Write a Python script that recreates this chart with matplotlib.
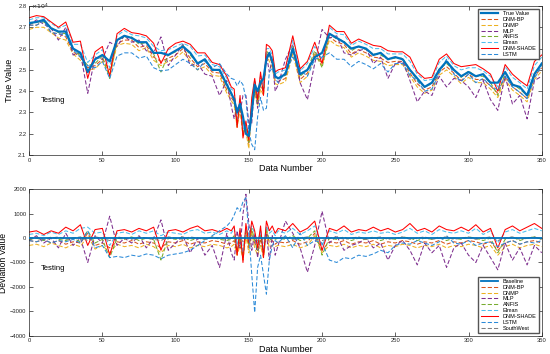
import numpy as np
import matplotlib
matplotlib.use("Agg")
from matplotlib import pyplot as plt

# sample positions (data number)
x = [0, 5, 10, 15, 20, 25, 30, 35, 40, 45, 50, 55, 60, 65, 70, 75, 80, 85, 90, 95,
     100, 105, 110, 115, 120, 125, 130, 135,
     138, 140, 142, 144, 146, 148, 150, 152, 154, 156, 158, 160, 162, 164, 166, 168,
     170, 175, 180, 185, 190, 195, 200, 205, 210, 215, 220, 225, 230, 235, 240, 245,
     250, 255, 260, 265, 270, 275, 280, 285, 290, 295, 300, 305, 310, 315, 320, 325,
     330, 335, 340, 345, 350]

true_value = [27200, 27250, 27350, 26950, 26800, 26800, 26000, 25800, 24900, 25500,
              25700, 25400, 26400, 26600, 26500, 26300, 26300, 25800, 25800, 25700,
              25900, 26100, 25800, 25300, 25500, 25000, 25000, 24300,
              23900, 23600, 23000, 23400, 22800, 22000, 21900, 23000, 24300, 24000,
              24400, 24600, 25500, 25800, 25400, 24700,
              24600, 24800, 26000, 24800, 25000, 25600, 25800, 26700, 26500, 26300,
              26000, 26100, 26000, 25700, 25800, 25500, 25600, 25500, 25000, 24600,
              24200, 24400, 25000, 25400, 25000, 24700, 24900, 24700, 24800, 24400,
              24400, 24900, 24300, 24200, 23800, 24800, 25300]

# deviations (prediction - true value)
dev_dnm_shade = [250, 300, 150, 300, 200, 450, 300, 550, -300, 350, 400, -700, 300, 350,
                 250, 400, 300, 450, -500, 300, 350, 250, 400, 500, 300, 350, 250, 400,
                 300, 500, -700, 400, -1000, 600, -200, 700, 300, -400, 500, -800, 700,
                 300, 500, 200,
                 400, 300, 600, 250, 400, 700, -500, 400, 300, 500, 250, 350, 300, 450,
                 300, 400, 250, 350, 600, 300, 400, 250, 500, 350, 300, 450, 300, 550,
                 250, 400, -400, 350, 500, 300, 450, 600, 400]
dev_lstm = [-100, -150, -50, -200, -100, -150, -50, -200, 300, -400, -300, -800, -750,
            -800, -700, -750, -650, -700, -850, -700, -650, -600, -500, -300, -100, 100,
            300, 500,
            700, 950, 1250, 1100, 1500, 1650, 200, -1500, -3050, -1200, -700, -1500,
            -2300, -900, -300, -100,
            -200, 100, -400, 200, -300, -100, -200, -900, -1000, -800, -850, -700, -750,
            -650, -500, -600, -300, -200, -250, -100, -200, -300, -150, 100, -200, -250,
            -100, -300, -200, -150, -350, -200, -100, -250, -150, -200, -100]
dev_elman = [150, 200, 100, 250, 150, 300, 200, 400, 450, 200, 250, -300, 200, 250, 150,
             300, 200, 300, 100, 250, 200, 150, 300, 350, 200, 250, 150, 300,
             200, 400, -300, 300, -600, 400, 100, 500, 200, -200, 300, -400, 500, 200,
             300, 100,
             300, 200, 400, 150, 300, 500, -300, 300, 200, 350, 150, 250, 200, 300, 200,
             250, 150, 250, 400, 200, 300, 150, 350, 250, 200, 300, 200, 400, 150, 300,
             -200, 250, 350, 200, 300, 400, 300]
dev_dnm_bp = [-100, -150, -50, -200, -100, -250, -150, -200, 200, -300, -200, -400, -150,
              -200, -100, -250, -150, -200, -400, -150, -200, -100, -250, -150, -200,
              -100, -150, -250,
              -200, -100, -500, -150, -700, 200, -400, 300, -200, -500, -100, -600, 300,
              -200, -100, -250,
              -150, -200, -100, -250, -150, 200, -500, -150, -200, -100, -250, -150,
              -200, -100, -250, -150, -200, -100, -150, -250, -150, -200, -100, -250,
              -150, -200, -100, -150, -250, -150, -500, -200, -100, -250, -150, -100,
              -200]
dev_dnmp = [-300, -250, -350, -200, -300, -400, -250, -350, 100, -450, -300, -600, -250,
            -350, -300, -400, -250, -350, -600, -300, -350, -250, -400, -300, -350, -250,
            -300, -400,
            -350, -250, -700, -300, -900, 100, -600, 200, -400, -700, -300, -800, 200,
            -400, -300, -350,
            -300, -350, -250, -400, -300, 100, -600, -300, -350, -250, -400, -300, -350,
            -250, -400, -300, -350, -250, -300, -400, -300, -350, -250, -400, -300, -350,
            -250, -300, -400, -300, -700, -350, -250, -400, -300, -250, -350]
dev_anfis = [-50, 0, -100, 50, -50, -100, 0, -150, 300, -200, -50, -800, 0, -50, 50,
             -100, 0, -50, -900, 0, -50, 50, -100, 0, -50, 50, -50, -100,
             -50, 100, -600, 50, -800, 400, -300, 400, -100, -500, 100, -700, 400, -100,
             0, -50,
             0, -50, 100, -100, 0, 300, -700, 0, -50, 50, -100, 0, -50, 50, -100, 0, -50,
             50, 0, -100, 0, -50, 50, -100, 0, -50, 50, 0, -100, 0, -600, -50, 50, -100,
             0, 50, -50]
dev_mlp = [-100, 100, -200, 0, -400, 200, -300, 0, -1000, 100, -200, 900, -300, 0, -200,
           100, -400, 0, 750, -500, -200, 100, -600, 0, -700, -300, -1200, 200,
           -600, -900, 300, -400, 1000, 1800, 600, -500, 200, -800, 300, -600, 200, -900,
           100, -700,
           -300, 700, 200, -400, -1400, -300, 1100, -200, 100, -500, -300, -200, 0, -400,
           -200, -900, -300, -100, -500, -1100, -200, -600, -300, -1200, -400, -200, -700,
           -1000, -300, -800, -1300, -200, -900, -400, -1100, -300, -600]
dev_southwest = [0, 50, -50, 0, 50, -50, 0, 50, -100, 50, 0, -100, 50, 0, -50, 50, 0, -50,
                 -100, 50, 0, -50, 50, 0, -50, 50, 0, -50,
                 0, 50, -100, 50, -150, 100, -50, 100, 0, -100, 50, -100, 100, 0, 50, 0,
                 0, 50, -50, 0, 50, -50, -100, 0, 50, -50, 0, 50, -50, 0, 50, -50, 0, 50,
                 -50, 0, 50, -50, 0, 50, -50, 0, 50, -50, 0, 50, -100, 0, 50, -50, 0, 50,
                 -50]

x = np.array(x)
true_value = np.array(true_value, dtype=float)

models = [
    ("DNM-BP", dev_dnm_bp, "#D95319", (0, (4, 2))),
    ("DNMP", dev_dnmp, "#EDB120", (0, (4, 2))),
    ("MLP", dev_mlp, "#7E2F8E", (0, (4, 2))),
    ("ANFIS", dev_anfis, "#77AC30", (0, (4, 2))),
    ("Elman", dev_elman, "#4DBEEE", (0, (4, 2))),
    ("DNM-SHADE", dev_dnm_shade, "#FF0000", "-"),
    ("LSTM", dev_lstm, "#2B8AD8", (0, (4, 2))),
]

plt.rcParams["font.family"] = "Liberation Sans"
fig = plt.figure(figsize=(5.5, 3.54), dpi=100)
ax1 = fig.add_axes([0.053, 0.562, 0.932, 0.421])
ax2 = fig.add_axes([0.053, 0.052, 0.932, 0.413])

# top: predictions (axis in units of 10^4)
ax1.plot(x, true_value / 1e4, color="#0072BD", lw=1.6, label="True Value", zorder=3)
for name, dev, col, ls in models:
    ax1.plot(x, (true_value + np.array(dev)) / 1e4, color=col, ls=ls, lw=0.75, label=name)
ax1.set_xlim(0, 350)
ax1.set_ylim(2.1, 2.8)
ax1.set_yticks(np.arange(2.1, 2.81, 0.1))
ax1.set_yticklabels(["%.1f" % v for v in np.arange(2.1, 2.81, 0.1)])
ax1.text(0.004, 1.0, r"$\times10^{4}$", transform=ax1.transAxes, fontsize=4.5,
         va="center", ha="left", color="#262626")
ax1.set_ylabel("True Value", fontsize=6.5, labelpad=3)
ax1.set_xlabel("Data Number", fontsize=6.5, labelpad=1)
ax1.text(8, 2.35, "Testing", fontsize=5.5)
ax1.legend(loc="upper right", fontsize=4, handlelength=3.2, borderpad=0.4,
           labelspacing=0.15, fancybox=False, edgecolor="#555555", framealpha=1)

# bottom: deviations
ax2.plot(x, np.zeros(len(x)), color="#0072BD", lw=1.3, label="Baseline", zorder=3)
for name, dev, col, ls in models:
    ax2.plot(x, dev, color=col, ls=ls, lw=0.75, label=name)
ax2.plot(x, dev_southwest, color="#808080", ls=(0, (4, 2)), lw=0.75, label="SouthWest")
ax2.set_xlim(0, 350)
ax2.set_ylim(-4000, 2000)
ax2.set_yticks(np.arange(-4000, 2001, 1000))
ax2.set_ylabel("Deviation Value", fontsize=6.2, labelpad=1)
ax2.set_xlabel("Data Number", fontsize=6.5, labelpad=1)
ax2.text(8, -1300, "Testing", fontsize=5.5)
ax2.legend(loc="lower right", fontsize=4, handlelength=3.2, borderpad=0.4,
           labelspacing=0.15, fancybox=False, edgecolor="#555555", framealpha=1)

for ax in (ax1, ax2):
    ax.set_xticks(np.arange(0, 351, 50))
    ax.tick_params(direction="in", top=True, right=True, labelsize=4.2, length=3,
                   width=0.5, pad=2, colors="#262626")
    for s in ax.spines.values():
        s.set_color("#262626")
        s.set_linewidth(0.5)

fig.savefig("out.png", dpi=100)
